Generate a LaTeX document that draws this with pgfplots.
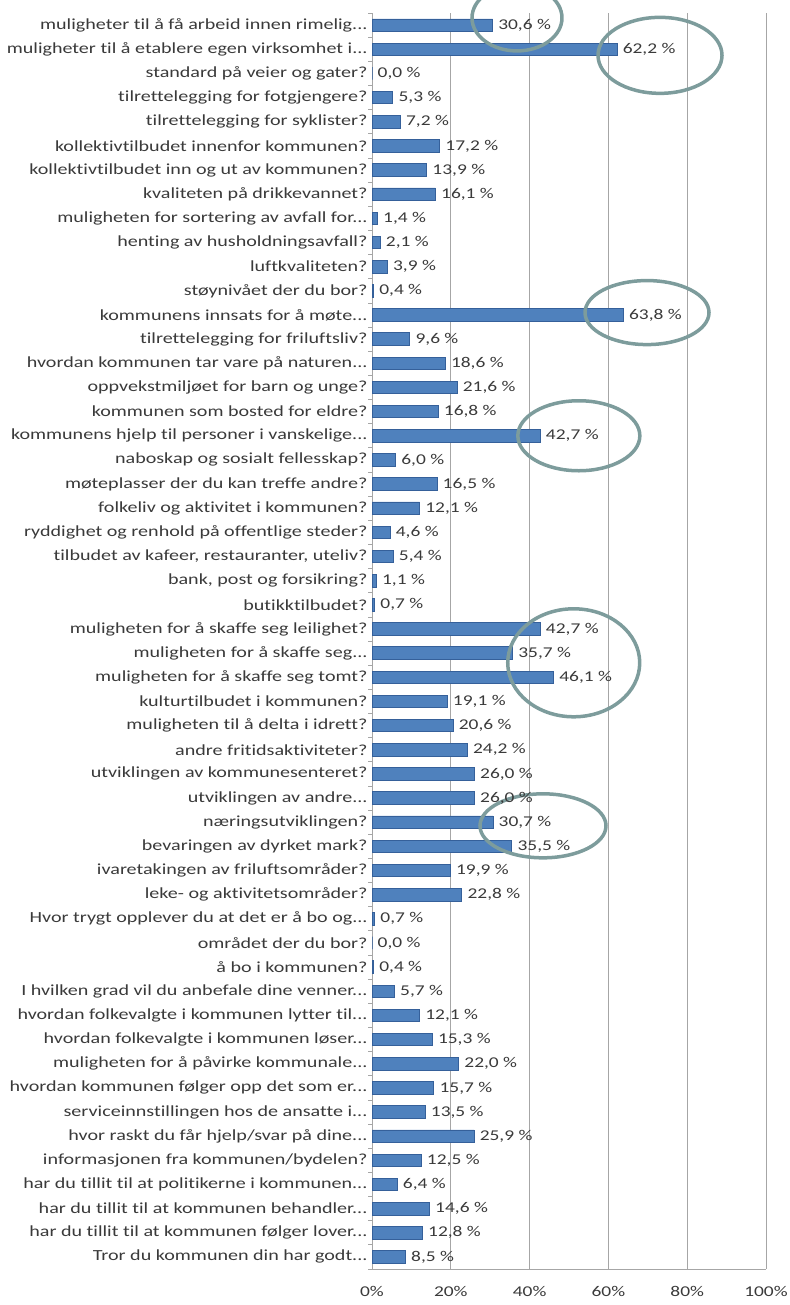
\documentclass[border=0pt]{standalone}
\usepackage{pgfplots}
\pgfplotsset{compat=1.18}
\usepackage{fontspec}
\setmainfont{Carlito}[FakeStretch=1.3, Ligatures=NoCommon]
\definecolor{barblue}{HTML}{4F81BD}
\definecolor{baredge}{HTML}{35609A}
\definecolor{ringc}{HTML}{7D9C9C}
\definecolor{txt}{HTML}{3A3A3A}
\definecolor{gridc}{HTML}{A6A6A6}
\newcommand{\dd}{.\kern0pt.\kern0pt.}
\begin{document}
\begin{tikzpicture}
\path[use as bounding box] (0,0) rectangle (790bp,-1305bp);
\begin{axis}[
  at={(372bp,-1269bp)}, anchor=south west,
  width=394bp, height=1256bp, scale only axis,
  xbar, bar width=12.5bp,
  xmin=0, xmax=100, ymin=-0.5, ymax=51.5, y dir=reverse,
  clip=false,
  /pgf/number format/assume math mode=true,
  axis x line*=bottom, axis y line*=left,
  axis line style={gridc, line width=1bp},
  xtick={0,20,40,60,80,100},
  xticklabels={0\%,20\%,40\%,60\%,80\%,100\%},
  xmajorgrids, major grid style={gridc, line width=1bp},
  x tick label style={font=\fontsize{15}{17}\selectfont, text=txt, yshift=-14bp},
  ytick={0,1,2,3,4,5,6,7,8,9,10,11,12,13,14,15,16,17,18,19,20,21,22,23,24,25,26,27,28,29,30,31,32,33,34,35,36,37,38,39,40,41,42,43,44,45,46,47,48,49,50,51},
  minor ytick={-0.5,0.5,1.5,2.5,3.5,4.5,5.5,6.5,7.5,8.5,9.5,10.5,11.5,12.5,13.5,14.5,15.5,16.5,17.5,18.5,19.5,20.5,21.5,22.5,23.5,24.5,25.5,26.5,27.5,28.5,29.5,30.5,31.5,32.5,33.5,34.5,35.5,36.5,37.5,38.5,39.5,40.5,41.5,42.5,43.5,44.5,45.5,46.5,47.5,48.5,49.5,50.5,51.5},
  major tick length=0pt, minor tick length=4bp,
  tick align=outside,
  minor tick style={gridc, line width=0.8bp},
  y tick label style={font=\fontsize{15.5}{17}\selectfont, text=txt, xshift=-1bp},
  yticklabels={
    {muligheter til å få arbeid innen rimelig\dd},
    {muligheter til å etablere egen virksomhet i\dd},
    {standard på veier og gater?},
    {tilrettelegging for fotgjengere?},
    {tilrettelegging for syklister?},
    {kollektivtilbudet innenfor kommunen?},
    {kollektivtilbudet inn og ut av kommunen?},
    {kvaliteten på drikkevannet?},
    {muligheten for sortering av avfall for\dd},
    {henting av husholdningsavfall?},
    {luftkvaliteten?},
    {støynivået der du bor?},
    {kommunens innsats for å møte\dd},
    {tilrettelegging for friluftsliv?},
    {hvordan kommunen tar vare på naturen\dd},
    {oppvekstmiljøet for barn og unge?},
    {kommunen som bosted for eldre?},
    {kommunens hjelp til personer i vanskelige\dd},
    {naboskap og sosialt fellesskap?},
    {møteplasser der du kan treffe andre?},
    {folkeliv og aktivitet i kommunen?},
    {ryddighet og renhold på offentlige steder?},
    {tilbudet av kafeer, restauranter, uteliv?},
    {bank, post og forsikring?},
    {butikktilbudet?},
    {muligheten for å skaffe seg leilighet?},
    {muligheten for å skaffe seg\dd},
    {muligheten for å skaffe seg tomt?},
    {kulturtilbudet i kommunen?},
    {muligheten til å delta i idrett?},
    {andre fritidsaktiviteter?},
    {utviklingen av kommunesenteret?},
    {utviklingen av andre\dd},
    {næringsutviklingen?},
    {bevaringen av dyrket mark?},
    {ivaretakingen av friluftsområder?},
    {leke- og aktivitetsområder?},
    {Hvor trygt opplever du at det er å bo og\dd},
    {området der du bor?},
    {å bo i kommunen?},
    {I hvilken grad vil du anbefale dine venner\dd},
    {hvordan folkevalgte i kommunen lytter til\dd},
    {hvordan folkevalgte i kommunen løser\dd},
    {muligheten for å påvirke kommunale\dd},
    {hvordan kommunen følger opp det som er\dd},
    {serviceinnstillingen hos de ansatte i\dd},
    {hvor raskt du får hjelp/svar på dine\dd},
    {informasjonen fra kommunen/bydelen?},
    {har du tillit til at politikerne i kommunen\dd},
    {har du tillit til at kommunen behandler\dd},
    {har du tillit til at kommunen følger lover\dd},
    {Tror du kommunen din har godt\dd}
  },
  point meta=x,
  nodes near coords={\pgfmathprintnumber[fixed,fixed zerofill,precision=1,use comma]{\pgfplotspointmeta} \%},
  nodes near coords align={horizontal},
  every node near coord/.append style={font=\fontsize{15}{17}\selectfont, text=txt, anchor=west, xshift=2bp},
]
\addplot[fill=barblue, draw=baredge, line width=0.8bp] coordinates {
(30.6,0) (62.2,1) (0.0,2) (5.3,3) (7.2,4) (17.2,5) (13.9,6) (16.1,7) (1.4,8) (2.1,9)
(3.9,10) (0.4,11) (63.8,12) (9.6,13) (18.6,14) (21.6,15) (16.8,16) (42.7,17) (6.0,18) (16.5,19)
(12.1,20) (4.6,21) (5.4,22) (1.1,23) (0.7,24) (42.7,25) (35.7,26) (46.1,27) (19.1,28) (20.6,29)
(24.2,30) (26.0,31) (26.0,32) (30.7,33) (35.5,34) (19.9,35) (22.8,36) (0.7,37) (0.0,38) (0.4,39)
(5.7,40) (12.1,41) (15.3,42) (22.0,43) (15.7,44) (13.5,45) (25.9,46) (12.5,47) (6.4,48) (14.6,49)
(12.8,50) (8.5,51)
};
\draw[ringc, line width=3.5bp] (axis cs:36.8,-0.3) ellipse [x radius=45bp, y radius=33bp];
\draw[ringc, line width=3.5bp] (axis cs:73.1,1.25) ellipse [x radius=62bp, y radius=38bp];
\draw[ringc, line width=3.5bp] (axis cs:69.8,11.9) ellipse [x radius=62bp, y radius=32bp];
\draw[ringc, line width=3.5bp] (axis cs:52.5,17.0) ellipse [x radius=61bp, y radius=35bp];
\draw[ringc, line width=3.5bp] (axis cs:51.2,26.4) ellipse [x radius=66bp, y radius=54bp];
\draw[ringc, line width=3.5bp] (axis cs:43.4,33.15) ellipse [x radius=63bp, y radius=32bp];
\end{axis}
\end{tikzpicture}
\end{document}
